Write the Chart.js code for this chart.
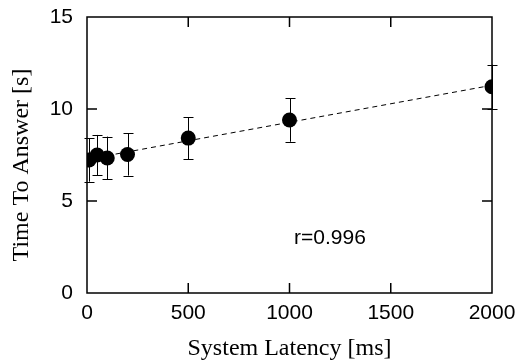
<!DOCTYPE html>
<html>
<head>
<meta charset="utf-8">
<script src="https://cdn.jsdelivr.net/npm/chart.js@4/dist/chart.umd.min.js"></script>
<style>
  html, body { margin: 0; padding: 0; background: #fff; }
  canvas { display: block; }
</style>
</head>
<body>
<canvas id="latency" width="517" height="364"></canvas>
<script>
// System latency vs. time to answer (mean +/- error)
const latencyMs = [10, 50, 100, 200, 500, 1000, 2000];
const meanTime = [7.23, 7.5, 7.34, 7.53, 8.42, 9.40, 11.21];
const errTime = [1.18, 1.09, 1.16, 1.15, 1.14, 1.18, 1.2];

const xTicks = [0, 500, 1000, 1500, 2000];
const yTicks = [0, 5, 10, 15];

const corrLabel = 'r=0.996';
const corrAt = { x: 1200, y: 3.0 };

const xTitle = 'System Latency [ms]';
const yTitle = 'Time To Answer [s]';

const SANS = '"Liberation Sans", Arial, Helvetica, sans-serif';
const SERIF = '"Liberation Serif", "Times New Roman", Times, serif';

// least squares fit line through the points
function fitLine(xs, ys) {
    const n = xs.length;
    const mx = xs.reduce((a, b) => a + b, 0) / n;
    const my = ys.reduce((a, b) => a + b, 0) / n;
    let sxy = 0, sxx = 0;
    for (let i = 0; i < n; i++) {
        sxy += (xs[i] - mx) * (ys[i] - my);
        sxx += (xs[i] - mx) * (xs[i] - mx);
    }
    const slope = sxy / sxx;
    const x0 = Math.min(...xs), x1 = Math.max(...xs);
    return [
        { x: x0, y: my + slope * (x0 - mx) },
        { x: x1, y: my + slope * (x1 - mx) }
    ];
}

const points = latencyMs.map((x, i) => ({ x: x, y: meanTime[i] }));

// error bars under the markers
const errorBars = {
    id: 'errorBars',
    beforeDatasetsDraw(chart) {
        const { ctx, scales: { x, y } } = chart;
        ctx.save();
        ctx.strokeStyle = '#000';
        ctx.lineWidth = 1;
        latencyMs.forEach((lx, i) => {
            const px = Math.round(x.getPixelForValue(lx)) + 0.5;
            const top = y.getPixelForValue(meanTime[i] + errTime[i]);
            const bot = y.getPixelForValue(meanTime[i] - errTime[i]);
            ctx.beginPath();
            ctx.moveTo(px, top); ctx.lineTo(px, bot);
            ctx.moveTo(px - 5, Math.round(top) + 0.5); ctx.lineTo(px + 5, Math.round(top) + 0.5);
            ctx.moveTo(px - 5, Math.round(bot) + 0.5); ctx.lineTo(px + 5, Math.round(bot) + 0.5);
            ctx.stroke();
        });
        ctx.restore();
    }
};

// box frame with inward ticks, annotation and y title
const frame = {
    id: 'frame',
    afterDraw(chart) {
        const { ctx, chartArea: a, scales: { x, y } } = chart;
        ctx.save();
        ctx.strokeStyle = '#000';
        ctx.lineWidth = 1.5;
        ctx.strokeRect(a.left, a.top, a.right - a.left, a.bottom - a.top);

        const tl = 10;
        ctx.beginPath();
        xTicks.slice(1, -1).forEach(v => {
            const px = x.getPixelForValue(v);
            ctx.moveTo(px, a.bottom); ctx.lineTo(px, a.bottom - tl);
            ctx.moveTo(px, a.top); ctx.lineTo(px, a.top + tl);
        });
        yTicks.slice(1, -1).forEach(v => {
            const py = y.getPixelForValue(v);
            ctx.moveTo(a.left, py); ctx.lineTo(a.left + tl, py);
            ctx.moveTo(a.right, py); ctx.lineTo(a.right - tl, py);
        });
        ctx.stroke();

        ctx.fillStyle = '#000';
        ctx.font = '21px ' + SANS;
        ctx.textAlign = 'center';
        ctx.textBaseline = 'middle';
        ctx.fillText(corrLabel, x.getPixelForValue(corrAt.x), y.getPixelForValue(corrAt.y));

        ctx.font = '24px ' + SERIF;
        ctx.translate(22, (a.top + a.bottom) / 2 + 10);
        ctx.rotate(-Math.PI / 2);
        ctx.fillText(yTitle, 0, 0);
        ctx.restore();
    }
};

new Chart(document.getElementById('latency'), {
    type: 'scatter',
    data: {
        datasets: [{
            label: 'mean',
            data: points,
            backgroundColor: '#000',
            borderWidth: 0,
            pointRadius: 7.5,
            pointHoverRadius: 7.5
        }, {
            label: 'fit',
            data: fitLine(latencyMs, meanTime),
            showLine: true,
            borderColor: '#000',
            borderWidth: 1,
            borderDash: [5, 4],
            pointRadius: 0,
            fill: false
        }]
    },
    options: {
        responsive: false,
        devicePixelRatio: 1,
        animation: false,
        layout: { padding: { top: 17, right: 25, left: 0, bottom: 0 } },
        plugins: {
            legend: { display: false },
            tooltip: { enabled: false }
        },
        scales: {
            x: {
                type: 'linear',
                min: 0,
                max: 2000,
                afterBuildTicks: s => { s.ticks = xTicks.map(v => ({ value: v })); },
                afterFit: s => { s.height = 71; s.paddingLeft = 0; s.paddingRight = 0; },
                ticks: {
                    color: '#000', padding: 8, font: { family: SANS, size: 21 },
                    callback: v => String(v)
                },
                grid: { display: false, drawTicks: false },
                border: { display: false },
                title: {
                    display: true,
                    text: xTitle,
                    color: '#000',
                    font: { family: SERIF, size: 24 },
                    padding: { top: 0, bottom: 1 }
                }
            },
            y: {
                type: 'linear',
                min: 0,
                max: 15,
                afterBuildTicks: s => { s.ticks = yTicks.map(v => ({ value: v })); },
                afterFit: s => { s.width = 87; s.paddingTop = 0; s.paddingBottom = 0; },
                ticks: {
                    color: '#000', padding: 14, font: { family: SANS, size: 21 },
                    callback: v => String(v)
                },
                grid: { display: false, drawTicks: false },
                border: { display: false }
            }
        }
    },
    plugins: [errorBars, frame]
});
</script>
</body>
</html>
